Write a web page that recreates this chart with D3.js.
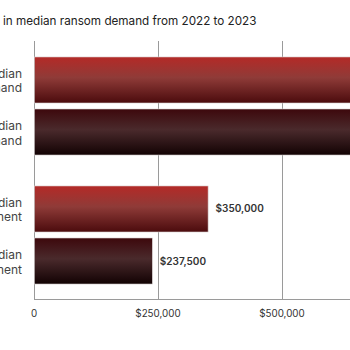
<!DOCTYPE html>
<html>
<head>
<meta charset="utf-8">
<script src="https://cdn.jsdelivr.net/npm/d3@7"></script>
<style>
  body { margin: 0; background: #fff; }
  svg { display: block; font-family: Inter, "Open Sans", sans-serif; }
</style>
</head>
<body>
<div id="chart"></div>
<script>
// data
const groups = ["demand", "payment"];
const years = ["2022", "2023"];
const labels = {
  demand: ["median", "ransom demand"],
  payment: ["median", "ransom payment"]
};
const demandValues = [750000, 950000];
const paymentValues = [350000, 237500];
const tickValues = [0, 250000, 500000];
const titleText = "Change in median ransom demand from 2022 to 2023";

const width = 350, height = 350;

const svg = d3.select("#chart")
  .append("svg")
  .attr("width", width)
  .attr("height", height);

// gradients
const defs = svg.append("defs");
const grads = {
  "2022": [["0%", "#b42a27"], ["45%", "#8f3b38"], ["100%", "#4b0b0d"]],
  "2023": [["0%", "#3d080c"], ["45%", "#4a2a2c"], ["100%", "#120203"]]
};
Object.entries(grads).forEach(([k, stops]) => {
  const g = defs.append("linearGradient")
    .attr("id", "g" + k)
    .attr("x1", 0).attr("y1", 0).attr("x2", 0).attr("y2", 1);
  stops.forEach(s => g.append("stop").attr("offset", s[0]).attr("stop-color", s[1]));
});

// scales
const x = d3.scaleLinear()
  .domain([0, 1000000])
  .range([34, 530]);

const y0 = d3.scaleBand()
  .domain(groups)
  .range([41.5, 299.5])
  .paddingInner(0.24)
  .paddingOuter(0.12);

const y1 = d3.scaleBand()
  .domain(years)
  .range([0, y0.bandwidth()])
  .paddingInner(6 / 52);

// grid
svg.append("g")
  .selectAll("line")
  .data(tickValues)
  .join("line")
  .attr("x1", d => x(d) + 0.5)
  .attr("x2", d => x(d) + 0.5)
  .attr("y1", 41)
  .attr("y2", 299.5)
  .attr("stroke", "#9a9a9a")
  .attr("stroke-width", 1);

svg.append("line")
  .attr("x1", x(0)).attr("x2", width)
  .attr("y1", 299.5).attr("y2", 299.5)
  .attr("stroke", "#9a9a9a");

// x axis labels
svg.append("g")
  .selectAll("text")
  .data(tickValues)
  .join("text")
  .attr("x", d => x(d))
  .attr("y", 317)
  .attr("text-anchor", "middle")
  .attr("font-size", 9.8)
  .attr("fill", "#333")
  .text(d => d === 0 ? "0" : "$" + d3.format(",")(d));

// bars
const rows = [];
groups.forEach(g => {
  const vals = g === "demand" ? demandValues : paymentValues;
  years.forEach((yr, i) => rows.push({ group: g, year: yr, value: vals[i] }));
});

svg.append("g")
  .selectAll("rect")
  .data(rows)
  .join("rect")
  .attr("x", x(0) + 0.5)
  .attr("y", d => y0(d.group) + y1(d.year))
  .attr("width", d => x(d.value) - x(0))
  .attr("height", y1.bandwidth())
  .attr("fill", d => "url(#g" + d.year + ")")
  .attr("stroke", "#d8d0d0")
  .attr("stroke-width", 0.6);

// value labels (only those that fall inside the view)
svg.append("g")
  .selectAll("text")
  .data(rows.filter(d => x(d.value) + 60 < width))
  .join("text")
  .attr("x", d => x(d.value) + 8)
  .attr("y", d => y0(d.group) + y1(d.year) + y1.bandwidth() / 2)
  .attr("dy", "0.35em")
  .attr("font-size", 10)
  .attr("font-weight", 600)
  .attr("fill", "#333")
  .text(d => "$" + d3.format(",")(d.value));

// category labels
const catG = svg.append("g");
rows.forEach(d => {
  const cy = y0(d.group) + y1(d.year) + y1.bandwidth() / 2;
  const t = catG.append("text")
    .attr("text-anchor", "end")
    .attr("font-size", 12)
    .attr("fill", "#444");
  t.append("tspan").attr("x", 22).attr("y", cy - 2).text(d.year + " " + labels[d.group][0]);
  t.append("tspan").attr("x", 22).attr("y", cy + 12.5).text(labels[d.group][1]);
});

// title, cropped on the left
const title = svg.append("text")
  .attr("y", 25)
  .attr("font-size", 11.7)
  .attr("fill", "#222");
const first = title.append("tspan").text("Change ");
title.append("tspan").text(titleText.slice(7));
title.attr("x", 3 - first.node().getComputedTextLength());
</script>
</body>
</html>
